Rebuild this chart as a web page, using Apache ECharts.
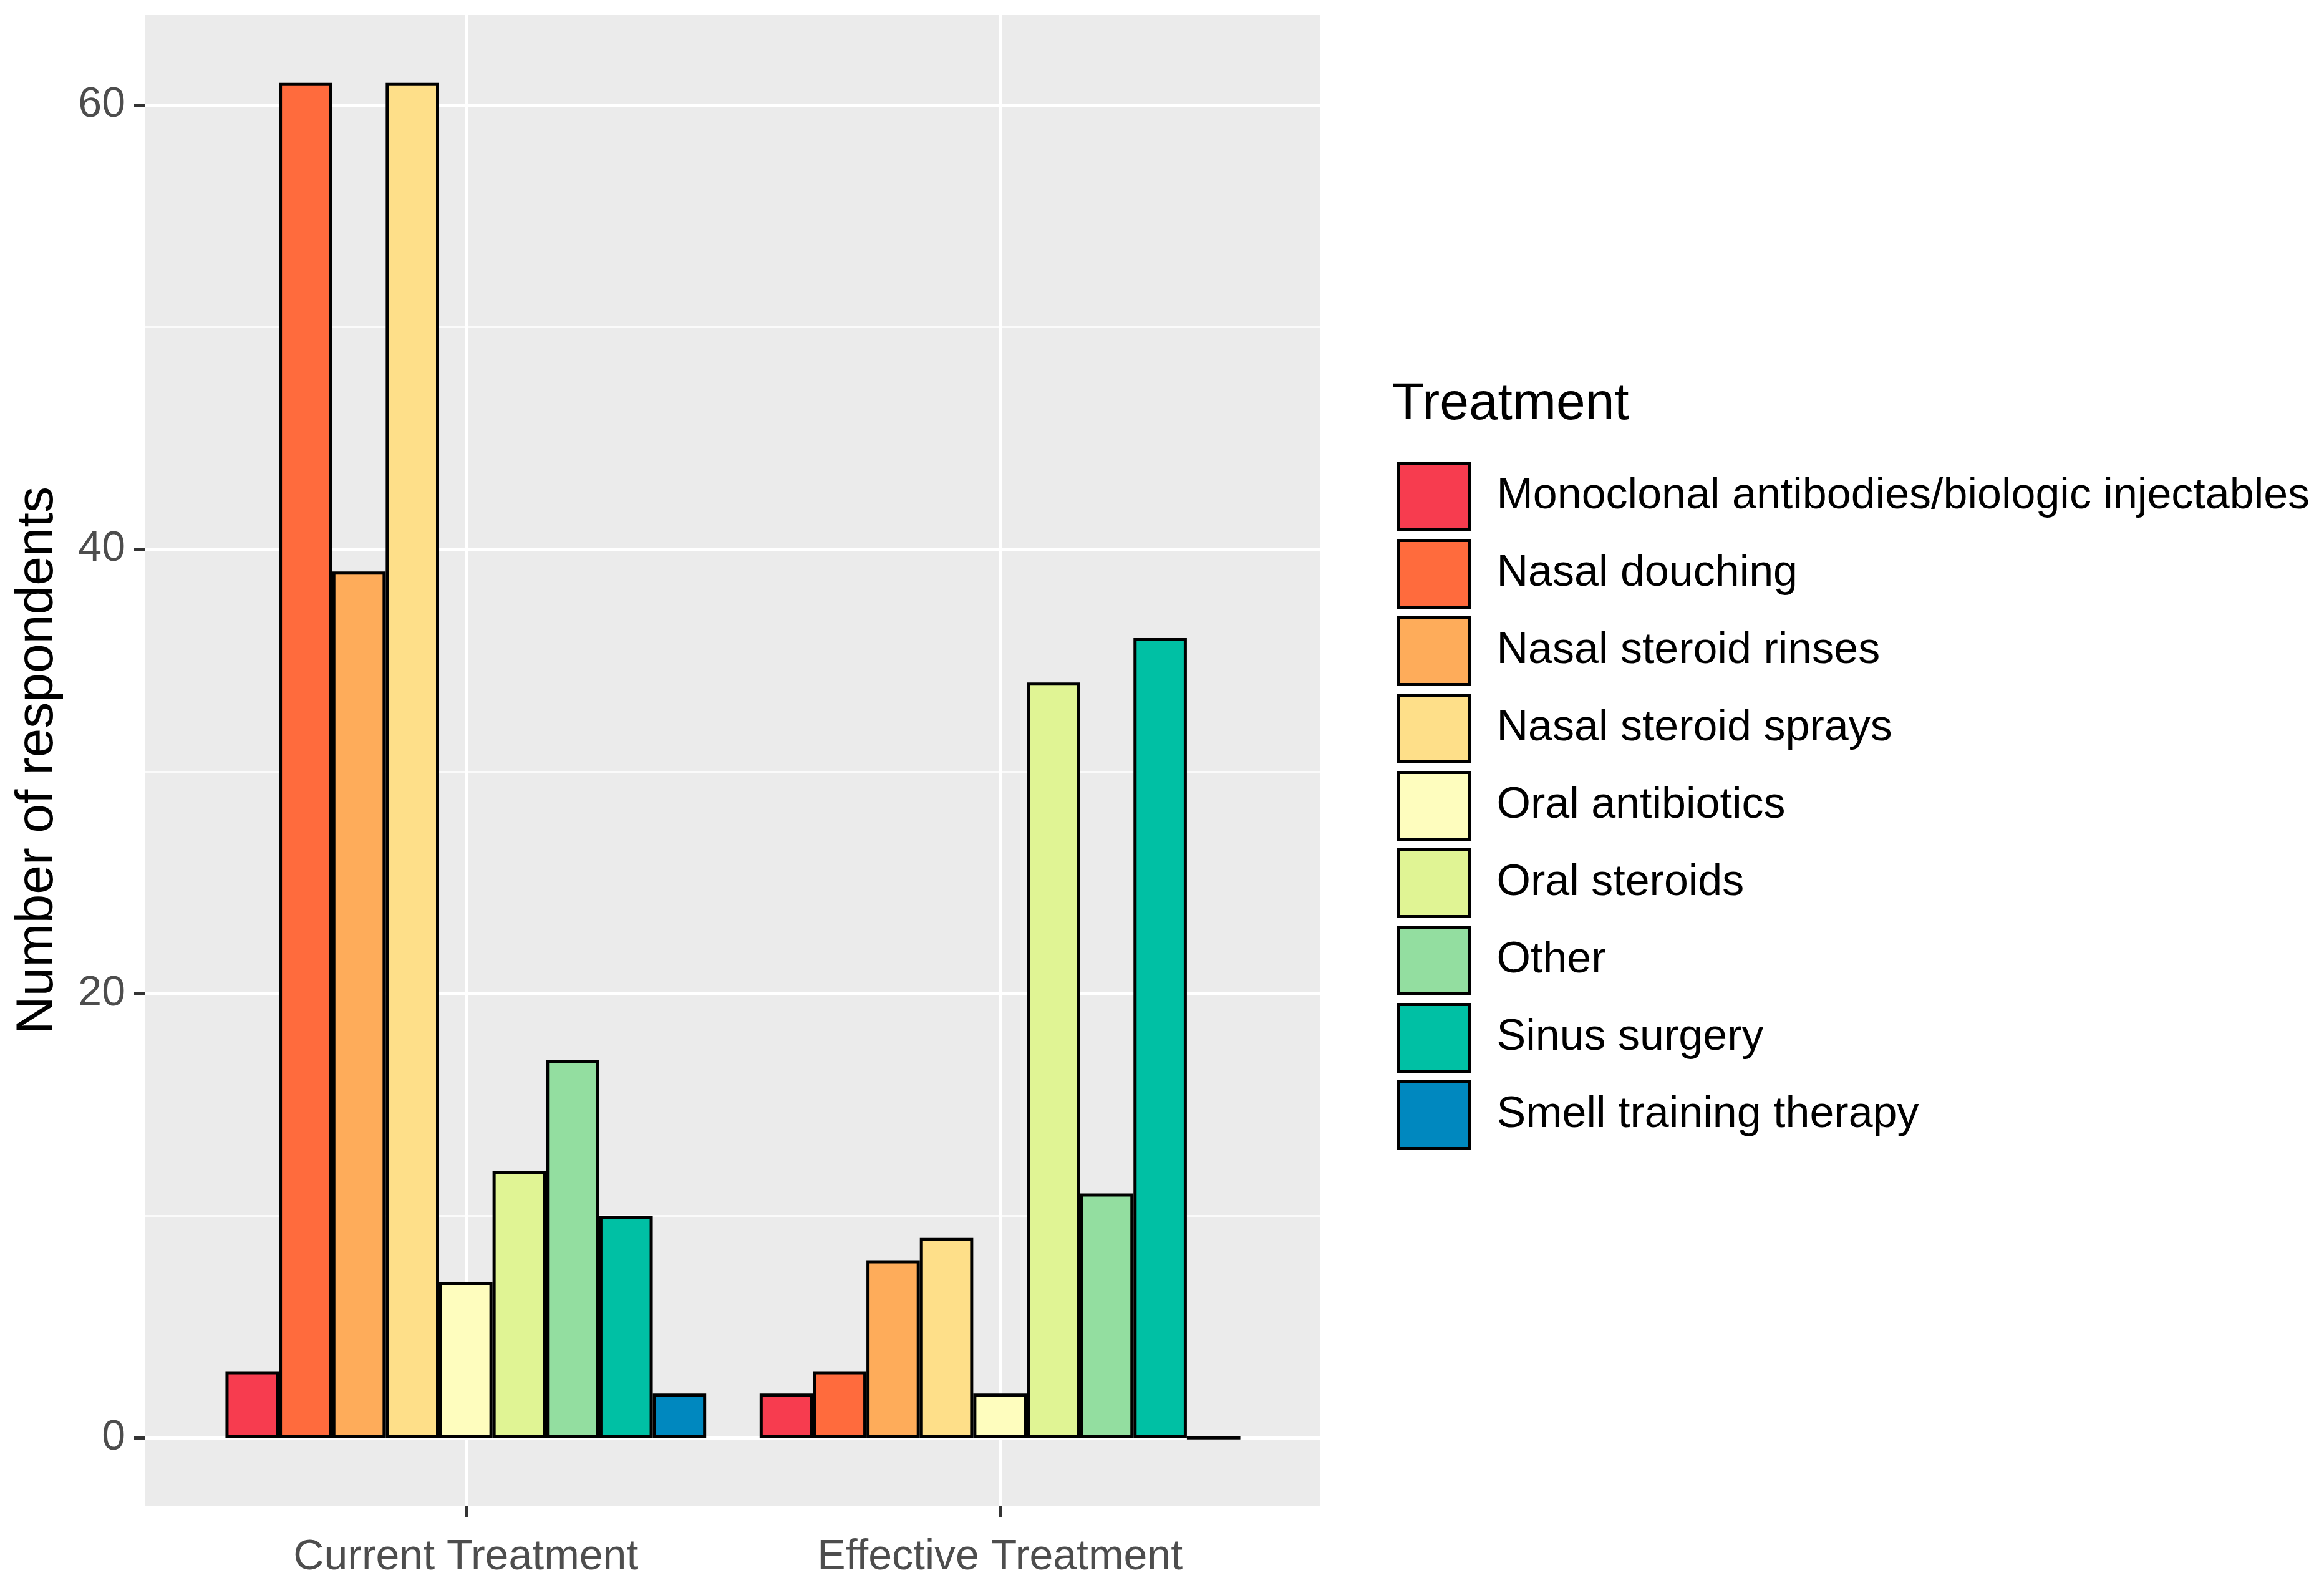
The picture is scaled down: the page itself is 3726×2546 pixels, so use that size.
<!DOCTYPE html>
<html>
<head>
<meta charset="utf-8">
<script src="https://cdn.jsdelivr.net/npm/echarts@6/dist/echarts.min.js"></script>
<style>
html,body{margin:0;padding:0;background:#fff;}
#chart{width:3726px;height:2546px;}
</style>
</head>
<body>
<div id="chart"></div>
<script>
const categories = ['Current Treatment', 'Effective Treatment'];
const treatments = [
  'Monoclonal antibodies/biologic injectables',
  'Nasal douching',
  'Nasal steroid rinses',
  'Nasal steroid sprays',
  'Oral antibiotics',
  'Oral steroids',
  'Other',
  'Sinus surgery',
  'Smell training therapy'
];
const currentValues = [3, 61, 39, 61, 7, 12, 17, 10, 2];
const effectiveValues = [2, 3, 8, 9, 2, 34, 11, 36, 0];
const colors = ['#F73C4F', '#FF6B3D', '#FEAC5A', '#FEDF89', '#FEFDBE', '#E0F494', '#93DEA0', '#00C0A4', '#0088BF'];
const yTicks = [0, 20, 40, 60];
const yMinorTicks = [10, 30, 50];
const xTicks = [1, 2];

const FONT = '"Liberation Sans", Arial, sans-serif';
const chart = echarts.init(document.getElementById('chart'), null, {renderer: 'canvas'});

const gridLines = []
  .concat(yTicks.map(v => ({yAxis: v, lineStyle: {width: 5}})))
  .concat(yMinorTicks.map(v => ({yAxis: v, lineStyle: {width: 2.5}})))
  .concat(xTicks.map(v => ({xAxis: v, lineStyle: {width: 5}})));

const series = [{
  name: 'grid',
  type: 'line',
  data: [],
  z: 1,
  silent: true,
  markLine: {
    z: 1,
    silent: true,
    symbol: 'none',
    animation: false,
    label: {show: false},
    lineStyle: {color: '#ffffff', width: 5, type: 'solid'},
    emphasis: {disabled: true},
    data: gridLines
  }
}].concat(treatments.map((name, i) => ({
  name: name,
  type: 'bar',
  barWidth: '10%',
  barGap: '0%',
  z: 2,
  data: [[xTicks[0], currentValues[i]], [xTicks[1], effectiveValues[i]]],
  itemStyle: {color: colors[i], borderColor: '#000', borderWidth: 5},
  emphasis: {disabled: true}
})));

chart.setOption({
  animation: false,
  backgroundColor: '#ffffff',
  title: {
    text: 'Treatment',
    left: 2232,
    top: 607,
    padding: 0,
    textStyle: {fontSize: 84, fontWeight: 'normal', color: '#000', fontFamily: FONT}
  },
  legend: {
    orient: 'vertical',
    left: 2240,
    top: 740,
    padding: 0,
    itemWidth: 114,
    itemHeight: 107,
    itemGap: 12,
    icon: 'rect',
    selectedMode: false,
    itemStyle: {borderColor: '#000', borderWidth: 5},
    textStyle: {fontSize: 70, color: '#000', fontFamily: FONT, padding: [22, 0, 0, 38]},
    data: treatments
  },
  grid: {
    left: 233,
    top: 24,
    width: 1884,
    height: 2390,
    show: true,
    backgroundColor: '#EBEBEB',
    borderWidth: 0,
    containLabel: false
  },
  xAxis: {
    type: 'value',
    min: 0.4,
    max: 2.6,
    splitNumber: 2,
    axisLine: {show: false, onZero: false},
    axisTick: {show: true, customValues: xTicks, length: 18, lineStyle: {color: '#333333', width: 5}},
    axisLabel: {
      customValues: xTicks,
      formatter: v => categories[Math.round(v) - 1] || '',
      fontSize: 68, color: '#4D4D4D', fontFamily: FONT, margin: 49
    },
    splitLine: {show: false}
  },
  yAxis: {
    type: 'value',
    min: -3.05,
    max: 64.05,
    splitNumber: 3,
    name: 'Number of respondents',
    nameLocation: 'middle',
    nameGap: 130,
    nameTextStyle: {fontSize: 84, color: '#000', fontFamily: FONT},
    axisLine: {show: false, onZero: false},
    axisTick: {show: true, customValues: yTicks, length: 18, lineStyle: {color: '#333333', width: 5}},
    axisLabel: {
      customValues: yTicks,
      fontSize: 68, color: '#4D4D4D', fontFamily: FONT, margin: 32
    },
    splitLine: {show: false}
  },
  series: series
});
</script>
</body>
</html>
